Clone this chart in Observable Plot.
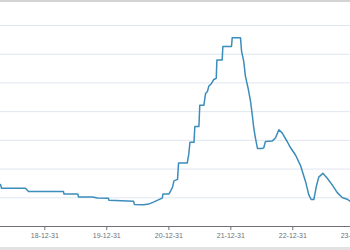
<!DOCTYPE html>
<html>
<head>
<meta charset="utf-8">
<script src="https://cdn.jsdelivr.net/npm/d3@7"></script>
<script src="https://cdn.jsdelivr.net/npm/@observablehq/plot@0.6"></script>
<style>
  html, body { margin: 0; padding: 0; background: #fff; }
  #chart {
    width: 350px; height: 250px; box-sizing: border-box; overflow: hidden;
    border-top: 2px solid #d4d4d4; border-bottom: 3px solid #e2e2e2;
  }
</style>
</head>
<body>
<div id="chart"></div>
<script>
const dates = [
  "2018-04-14","2018-04-20","2018-09-08","2018-09-26","2019-04-20","2019-04-23",
  "2019-07-13","2019-07-18","2019-10-08","2019-11-06","2020-01-10","2020-01-13",
  "2020-06-06","2020-06-11","2020-08-05","2020-09-02","2020-10-01","2020-10-23",
  "2020-11-22","2020-11-26","2020-12-30","2021-01-09","2021-01-21","2021-01-30",
  "2021-02-20","2021-02-26","2021-04-18","2021-04-27","2021-05-04","2021-05-28",
  "2021-06-02","2021-06-26","2021-07-01","2021-07-25","2021-08-04","2021-08-15",
  "2021-08-23","2021-09-08","2021-09-22","2021-10-06","2021-10-10","2021-11-10",
  "2021-11-14","2022-01-04","2022-01-08","2022-02-26","2022-03-04","2022-03-17",
  "2022-03-27","2022-04-12","2022-04-26","2022-05-06","2022-05-15","2022-05-25",
  "2022-06-06","2022-07-05","2022-07-13","2022-07-23","2022-09-01","2022-09-20",
  "2022-10-10","2022-10-29","2022-11-28","2022-12-17","2023-01-16","2023-02-14",
  "2023-03-16","2023-04-04","2023-04-18","2023-05-04","2023-05-20","2023-06-02",
  "2023-06-26","2023-07-22","2023-08-20","2023-09-19","2023-10-18","2023-11-16",
  "2023-12-06"
];
const values = [
  14.6,13.3,13.3,12.2,12.2,11.3,
  11.3,10.3,10.3,9.9,9.8,9.1,
  8.8,7.7,7.6,7.8,8.5,9.1,
  9.9,11.3,11.3,12.2,13.6,15.9,
  16.4,22.1,22.1,25.1,29.3,29.3,
  34.8,34.8,42.2,42.2,46.3,47.0,
  48.8,49.8,51.2,51.6,58.0,58.0,
  62.7,62.7,65.7,65.7,61.1,57.5,
  52.3,48.1,43.6,39.0,34.3,30.8,
  27.2,27.2,27.4,29.6,29.8,30.8,
  33.7,32.6,29.6,27.5,24.9,21.3,
  15.7,11.1,9.4,9.4,14.3,17.2,
  18.5,16.8,14.5,11.8,10.1,9.5,
  8.7
];
const gridValues = [10, 20, 30, 40, 50, 60, 70];
const tickDates = ["2018-12-31","2019-12-31","2020-12-31","2021-12-31","2022-12-31","2023-12-31"];
const xStart = "2018-04-14";
const xEnd = "2023-12-06";

const data = dates.map((d, i) => ({date: new Date(d), value: values[i]}));

const chart = Plot.plot({
  width: 350,
  height: 245,
  marginLeft: 0,
  marginRight: 0,
  marginTop: 0,
  marginBottom: 21,
  style: {fontFamily: "'Liberation Sans', Arial, sans-serif", background: "#fff", overflow: "visible"},
  x: {type: "utc", domain: [new Date(xStart), new Date(xEnd)]},
  y: {domain: [0, 78], axis: null},
  marks: [
    Plot.gridY(gridValues, {stroke: "#e0e6f1", strokeOpacity: 1, strokeWidth: 1}),
    Plot.ruleY([0], {stroke: "#6e7079", strokeWidth: 1}),
    Plot.axisX(tickDates.map(d => new Date(d)), {
      tickSize: 4, tickPadding: 3, fontSize: 7, color: "#6e7079",
      tickFormat: d3.utcFormat("%y-%m-%d")
    }),
    Plot.line(data, {x: "date", y: "value", stroke: "#3c8dbc", strokeWidth: 1.5})
  ]
});
document.getElementById("chart").appendChild(chart);
</script>
</body>
</html>
